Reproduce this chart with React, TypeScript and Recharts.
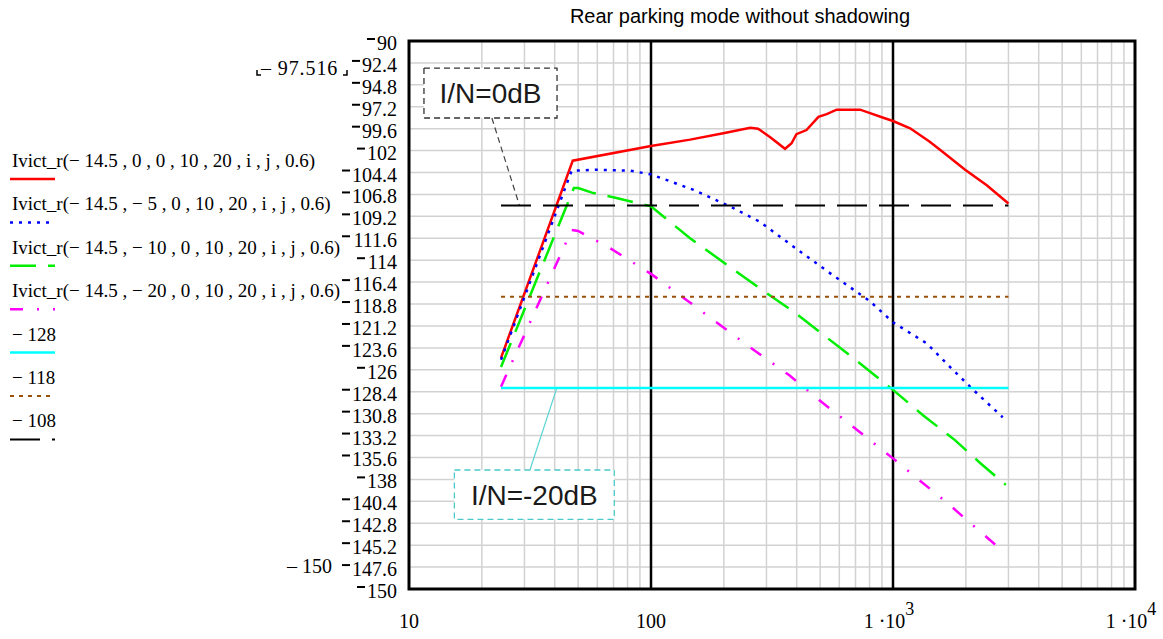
import React from 'react';
import {
  LineChart,
  Line,
  XAxis,
  YAxis,
  CartesianGrid,
  ReferenceLine,
  ReferenceArea,
  Legend,
} from 'recharts';

// interference level vs. distance, one curve per offset
const redFreq = [24, 47.5, 100, 145, 199, 257, 277, 310, 358, 381, 399, 439, 492, 532, 585, 731, 804, 912, 1000, 1177, 1414, 1564, 1986, 2440, 3000];
const redLevel = [-124.7, -103.1, -101.5, -100.8, -100.1, -99.5, -99.6, -100.5, -101.8, -101.2, -100.2, -99.75, -98.3, -98.0, -97.52, -97.52, -97.9, -98.4, -98.76, -99.56, -101.0, -101.9, -104.1, -105.8, -107.8];

const blueFreq = [24, 47, 60, 82, 100, 150, 219, 282, 387, 541, 804, 1000, 1377, 1722, 2148, 2840];
const blueLevel = [-124.9, -104.2, -104.1, -104.2, -104.6, -106.3, -108.3, -109.8, -112.5, -115.3, -118.5, -120.8, -123.1, -125.7, -128.2, -131.2];

const greenFreq = [24, 48, 50, 57, 72, 100, 145, 282, 387, 731, 1000, 1334, 1803, 2291, 2925];
const greenLevel = [-125.7, -106.1, -106.1, -106.6, -107.2, -108.1, -111.6, -117.1, -119.6, -125.3, -128.2, -131.0, -133.7, -136.2, -138.6];

const magentaFreq = [24, 47, 50, 68, 100, 141, 193, 265, 373, 495, 696, 1000, 1260, 1680, 2220, 2800];
const magentaLevel = [-127.85, -110.7, -110.8, -112.7, -115.5, -118.4, -121.1, -123.8, -126.6, -129.3, -132.4, -135.7, -137.9, -140.6, -143.4, -145.7];

// I/N thresholds
const thresholdLevels = [-128, -118, -108];
const thresholdSpan = [24, 3000];

// axes
const freqTicks = [
  10, 20, 30, 40, 50, 60, 70, 80, 90,
  100, 200, 300, 400, 500, 600, 700, 800, 900,
  1000, 2000, 3000, 4000, 5000, 6000, 7000, 8000, 9000,
  10000,
];
const decadeTicks = [10, 100, 1000, 10000];
const decadeMantissa = ['10', '100', '1 \u00b710', '1 \u00b710'];
const decadeExponent = ['', '', '3', '4'];

const levelTicks = [
  -150, -147.6, -145.2, -142.8, -140.4, -138, -135.6, -133.2, -130.8, -128.4,
  -126, -123.6, -121.2, -118.8, -116.4, -114, -111.6, -109.2, -106.8, -104.4,
  -102, -99.6, -97.2, -94.8, -92.4, -90,
];

const SERIF = "'Liberation Serif', 'Times New Roman', serif";
const SANS = "'Liberation Sans', Arial, sans-serif";

const toPoints = (f: number[], v: number[]) => f.map((x, i) => ({ f: x, v: v[i] }));

const series = [
  { key: 's0', name: 'Ivict_r(\u2212 14.5 , 0 , 0 , 10 , 20 , i , j , 0.6)', data: toPoints(redFreq, redLevel), color: '#ff0000', dash: undefined, width: 2.5 },
  { key: 's5', name: 'Ivict_r(\u2212 14.5 , \u2212 5 , 0 , 10 , 20 , i , j , 0.6)', data: toPoints(blueFreq, blueLevel), color: '#0000ff', dash: '3 6', width: 2.5 },
  { key: 's10', name: 'Ivict_r(\u2212 14.5 , \u2212 10 , 0 , 10 , 20 , i , j , 0.6)', data: toPoints(greenFreq, greenLevel), color: '#00ee00', dash: '26 12', width: 2.5 },
  { key: 's20', name: 'Ivict_r(\u2212 14.5 , \u2212 20 , 0 , 10 , 20 , i , j , 0.6)', data: toPoints(magentaFreq, magentaLevel), color: '#ff00ff', dash: '13 14 2 14', width: 2.5 },
  { key: 't128', name: '\u2212 128', data: toPoints(thresholdSpan, thresholdSpan.map(() => thresholdLevels[0])), color: '#00ffff', dash: undefined, width: 2.5 },
  { key: 't118', name: '\u2212 118', data: toPoints(thresholdSpan, thresholdSpan.map(() => thresholdLevels[1])), color: '#9a5208', dash: '4 5', width: 2 },
  { key: 't108', name: '\u2212 108', data: toPoints(thresholdSpan, thresholdSpan.map(() => thresholdLevels[2])), color: '#000000', dash: '30 12', width: 2 },
];

const FreqTick = ({ x, y, payload }: any) => {
  const i = decadeTicks.indexOf(payload.value);
  if (i < 0) return null;
  const sup = decadeExponent[i];
  return (
    <text x={x - (sup ? 4 : 0)} y={y + 39} textAnchor="middle" fontFamily={SERIF} fontSize={20} fill="#000">
      {decadeMantissa[i]}
      {sup && (
        <tspan dy={-13} fontSize={18}>
          {sup}
        </tspan>
      )}
    </text>
  );
};

// Mathcad style labels: a short raised bar stands for the minus sign
const LevelTick = ({ x, y, payload }: any) => {
  const digits = String(Math.abs(payload.value));
  const w = digits.length * 10 - (digits.includes('.') ? 5 : 0);
  const left = x - w;
  return (
    <g>
      <line x1={left - 10} x2={left - 2} y1={y - 2} y2={y - 2} stroke="#000" strokeWidth={2} />
      <text x={x} y={y + 9} textAnchor="end" fontFamily={SERIF} fontSize={20} fill="#000">
        {digits}
      </text>
    </g>
  );
};

const LegendBlock = () => (
  <svg width={400} height={460} style={{ display: 'block' }}>
    {series.map((s, i) => {
      const ty = 167 + i * 43.4;
      return (
        <g key={s.key}>
          <text x={12} y={ty} fontFamily={SERIF} fontSize={19} fill="#000">
            {s.name}
          </text>
          <line x1={10} x2={55} y1={ty + 12} y2={ty + 12} stroke={s.color} strokeWidth={s.width} strokeDasharray={s.dash} />
        </g>
      );
    })}
  </svg>
);

const SideNotes = () => (
  <svg width={1163} height={639} style={{ position: 'absolute', left: 0, top: 0, pointerEvents: 'none' }}>
    <text x={740} y={23} textAnchor="middle" fontFamily={SANS} fontSize={20} fill="#000">
      Rear parking mode without shadowing
    </text>
    <path d="M257 70 V75 H261" fill="none" stroke="#000" strokeWidth={1.5} />
    <text x={261} y={75} fontFamily={SERIF} fontSize={20} letterSpacing={0.9} fill="#000">
      {'\u2013 97.516'}
    </text>
    <path d="M347 70 V75 H343" fill="none" stroke="#000" strokeWidth={1.5} />
    <text x={287} y={573} fontFamily={SERIF} fontSize={20} fill="#000">
      {'\u2013 150'}
    </text>
  </svg>
);

export default function App() {
  return (
    <div style={{ position: 'absolute', left: 0, top: 0, width: 1163, height: 639, background: '#fff' }}>
      <LineChart width={1163} height={639} margin={{ top: 41, right: 28, bottom: 10, left: 339 }}>
        <CartesianGrid stroke="#d2d2d2" strokeWidth={1.5} />
        <XAxis
          type="number"
          dataKey="f"
          scale="log"
          domain={[10, 10000]}
          ticks={freqTicks}
          interval={0}
          allowDataOverflow
          axisLine={false}
          tickLine={false}
          tickSize={0}
          tickMargin={0}
          height={40}
          tick={<FreqTick />}
        />
        <YAxis
          type="number"
          domain={[-150, -90]}
          ticks={levelTicks}
          interval={0}
          allowDataOverflow
          axisLine={false}
          tickLine={false}
          tickSize={0}
          tickMargin={12}
          width={70}
          tick={<LevelTick />}
        />
        <ReferenceLine x={100} stroke="#000" strokeWidth={2.5} />
        <ReferenceLine x={1000} stroke="#000" strokeWidth={2.5} />

        <ReferenceLine segment={[{ x: 22, y: -98.43 }, { x: 28.6, y: -108 }]} stroke="#444" strokeWidth={1.2} strokeDasharray="6 4" />
        <ReferenceArea
          x1={11.53}
          x2={40.9}
          y1={-98.43}
          y2={-92.96}
          fill="#fff"
          fillOpacity={1}
          stroke="#333"
          strokeWidth={1.3}
          strokeDasharray="6 4"
          label={{ value: 'I/N=0dB', position: 'center', fontSize: 28, fill: '#1a1a1a', fontFamily: SANS }}
        />
        <ReferenceLine segment={[{ x: 31.6, y: -136.97 }, { x: 40.8, y: -128 }]} stroke="#5cd3d3" strokeWidth={1.2} />
        <ReferenceArea
          x1={15.4}
          x2={70.5}
          y1={-142.37}
          y2={-136.97}
          fill="#fff"
          fillOpacity={1}
          stroke="#4cc8c8"
          strokeWidth={1.3}
          strokeDasharray="6 4"
          label={{ value: 'I/N=-20dB', position: 'center', fontSize: 28, fill: '#1a1a1a', fontFamily: SANS }}
        />

        {series.map((s) => (
          <Line
            key={s.key}
            data={s.data}
            dataKey="v"
            name={s.name}
            type="linear"
            stroke={s.color}
            strokeWidth={s.width}
            strokeDasharray={s.dash}
            dot={false}
            activeDot={false}
            isAnimationActive={false}
          />
        ))}

        <ReferenceArea x1={10} x2={10000} y1={-150} y2={-90} fill="none" stroke="#000" strokeWidth={3} />
        <Legend
          layout="vertical"
          align="center"
          verticalAlign="middle"
          wrapperStyle={{ left: 0, top: 0, width: 400, height: 460 }}
          content={() => <LegendBlock />}
        />
      </LineChart>
      <SideNotes />
    </div>
  );
}
